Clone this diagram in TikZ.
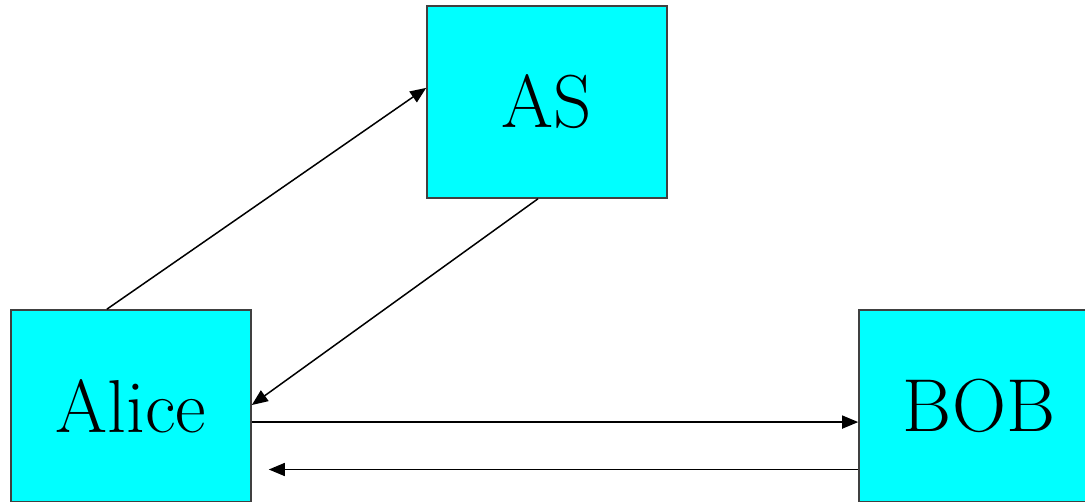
\documentclass[tikz,border=0pt]{standalone}
\usetikzlibrary{arrows.meta,calc}
\tikzset{
  party/.style={draw=black!75, line width=1.6pt, fill={rgb,255:red,0;green,255;blue,255},
    minimum width=240pt, minimum height=192pt, inner sep=0pt, anchor=center,
    font=\rmfamily\fontsize{75}{80}\selectfont},
  msg/.style={line width=1.5pt, -{Triangle[length=16pt,width=13pt]}}
}
\begin{document}
\begin{tikzpicture}[x=1pt,y=-1pt]
\useasboundingbox (0,0) rectangle (1085,501);
\clip (0,0) rectangle (1085,501);
\node[party] (as) at (547,102) {AS};
\node[party] (alice) at (131,406) {Alice};
\node[party] (bob) at (979,406) {BOB};
\coordinate (a1) at ($(alice.north west)!0.4!(alice.north east)$);
\coordinate (s1) at ($(as.north west)!0.427!(as.south west)$);
\coordinate (s2) at ($(as.south west)!0.4625!(as.south east)$);
\coordinate (a2) at ($(alice.north east)!0.495!(alice.south east)$);
\coordinate (a3) at ($(alice.north east)!0.583!(alice.south east)$);
\coordinate (b3) at ($(bob.north west)!0.583!(bob.south west)$);
\coordinate (b4) at ($(bob.north west)!0.828!(bob.south west)$);
\coordinate (a4) at ($(alice.north east)!0.828!(alice.south east)+(17,0)$);
\draw[msg] (a1) -- (s1);
\draw[msg] (s2) -- (a2);
\draw[msg] (a3) -- (b3);
\draw[msg] (b4) -- (a4);
\end{tikzpicture}
\end{document}
